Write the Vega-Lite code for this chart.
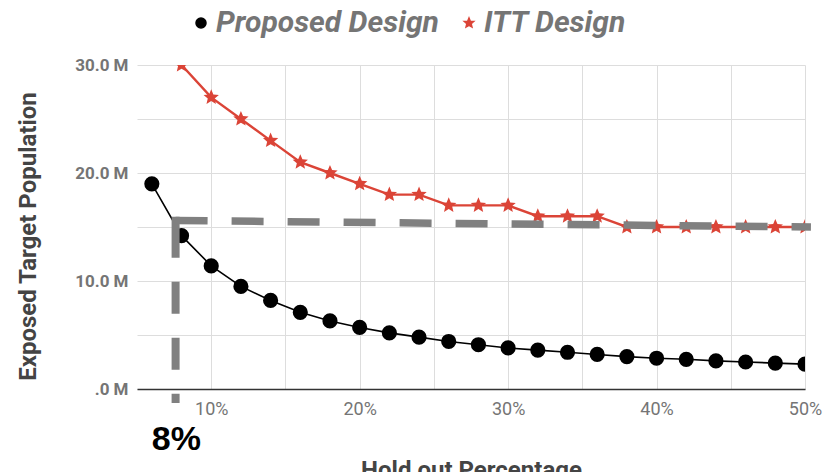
{
  "$schema": "https://vega.github.io/schema/vega-lite/v6.json",
  "width": 668,
  "height": 324,
  "autosize": {"type": "none"},
  "padding": {"left": 137, "top": 65, "right": 18, "bottom": 83},
  "background": "white",
  "config": {
    "font": "Roboto",
    "view": {"stroke": null},
    "axis": {"gridColor": "#dddddd", "gridWidth": 1, "ticks": false}
  },
  "datasets": {
    "series": [
      {"pct": 6, "value": 19.0, "series": "Proposed Design"},
      {"pct": 8, "value": 14.2, "series": "Proposed Design"},
      {"pct": 10, "value": 11.4, "series": "Proposed Design"},
      {"pct": 12, "value": 9.5, "series": "Proposed Design"},
      {"pct": 14, "value": 8.2, "series": "Proposed Design"},
      {"pct": 16, "value": 7.1, "series": "Proposed Design"},
      {"pct": 18, "value": 6.3, "series": "Proposed Design"},
      {"pct": 20, "value": 5.7, "series": "Proposed Design"},
      {"pct": 22, "value": 5.2, "series": "Proposed Design"},
      {"pct": 24, "value": 4.8, "series": "Proposed Design"},
      {"pct": 26, "value": 4.4, "series": "Proposed Design"},
      {"pct": 28, "value": 4.1, "series": "Proposed Design"},
      {"pct": 30, "value": 3.8, "series": "Proposed Design"},
      {"pct": 32, "value": 3.6, "series": "Proposed Design"},
      {"pct": 34, "value": 3.4, "series": "Proposed Design"},
      {"pct": 36, "value": 3.2, "series": "Proposed Design"},
      {"pct": 38, "value": 3.0, "series": "Proposed Design"},
      {"pct": 40, "value": 2.85, "series": "Proposed Design"},
      {"pct": 42, "value": 2.75, "series": "Proposed Design"},
      {"pct": 44, "value": 2.6, "series": "Proposed Design"},
      {"pct": 46, "value": 2.5, "series": "Proposed Design"},
      {"pct": 48, "value": 2.4, "series": "Proposed Design"},
      {"pct": 50, "value": 2.3, "series": "Proposed Design"},
      {"pct": 8, "value": 30, "series": "ITT Design"},
      {"pct": 10, "value": 27, "series": "ITT Design"},
      {"pct": 12, "value": 25, "series": "ITT Design"},
      {"pct": 14, "value": 23, "series": "ITT Design"},
      {"pct": 16, "value": 21, "series": "ITT Design"},
      {"pct": 18, "value": 20, "series": "ITT Design"},
      {"pct": 20, "value": 19, "series": "ITT Design"},
      {"pct": 22, "value": 18, "series": "ITT Design"},
      {"pct": 24, "value": 18, "series": "ITT Design"},
      {"pct": 26, "value": 17, "series": "ITT Design"},
      {"pct": 28, "value": 17, "series": "ITT Design"},
      {"pct": 30, "value": 17, "series": "ITT Design"},
      {"pct": 32, "value": 16, "series": "ITT Design"},
      {"pct": 34, "value": 16, "series": "ITT Design"},
      {"pct": 36, "value": 16, "series": "ITT Design"},
      {"pct": 38, "value": 15, "series": "ITT Design"},
      {"pct": 40, "value": 15, "series": "ITT Design"},
      {"pct": 42, "value": 15, "series": "ITT Design"},
      {"pct": 44, "value": 15, "series": "ITT Design"},
      {"pct": 46, "value": 15, "series": "ITT Design"},
      {"pct": 48, "value": 15, "series": "ITT Design"},
      {"pct": 50, "value": 15, "series": "ITT Design"}
    ],
    "hline": [{"pct": 7.6, "value": 15.6, "pct2": 50.4, "value2": 15.0}],
    "vline": [{"pct": 7.6, "value": 15.95, "pct2": 7.6, "value2": -1.3}],
    "note": [{"pct": 7.65, "value": -4.72, "label": "8%"}]
  },
  "encoding": {
    "x": {
      "field": "pct", "type": "quantitative",
      "scale": {"domain": [5, 50], "nice": false, "zero": false},
      "axis": {
        "values": [10, 15, 20, 25, 30, 35, 40, 45, 50],
        "labelExpr": "datum.value % 10 == 0 ? datum.value + '%' : ''",
        "grid": true,
        "domainColor": "#333333",
        "domainWidth": 1.5,
        "labelColor": "#757575",
        "labelFontSize": 18,
        "labelPadding": 11,
        "labelFlush": false,
        "title": "Hold out Percentage",
        "titleFontSize": 24,
        "titleFontWeight": "bold",
        "titleColor": "#444444",
        "titleX": 334,
        "titleY": 69,
        "titleAlign": "center",
        "titleBaseline": "top"
      }
    },
    "y": {
      "field": "value", "type": "quantitative",
      "scale": {"domain": [0, 30], "nice": false},
      "axis": {
        "values": [0, 5, 10, 15, 20, 25, 30],
        "labelExpr": "datum.value % 10 != 0 ? '' : (datum.value == 0 ? '.0 M' : format(datum.value, '.1f') + ' M')",
        "grid": true,
        "domain": false,
        "labelPadding": 9,
        "labelColor": "#757575",
        "labelFontSize": 17,
        "labelFontWeight": "bold",
        "title": "Exposed Target Population",
        "titleFontSize": 24,
        "titleFontWeight": "bold",
        "titleColor": "#444444",
        "titleAngle": -90,
        "titleX": -109,
        "titleY": 171,
        "titleAlign": "center",
        "titleBaseline": "middle"
      }
    }
  },
  "layer": [
    {
      "data": {"name": "series"},
      "transform": [{"filter": "datum.series == 'Proposed Design'"}],
      "mark": {"type": "point", "filled": true, "clip": true, "size": 230, "opacity": 1},
      "encoding": {
        "color": {
          "field": "series", "type": "nominal",
          "scale": {"domain": ["Proposed Design", "ITT Design"], "range": ["#000000", "#db4437"]},
          "legend": {
            "orient": "none",
            "legendX": 49,
            "legendY": -57,
            "direction": "horizontal",
            "title": null,
            "padding": 0,
            "labelFont": "Roboto",
            "labelFontSize": 30,
            "labelFontWeight": "bold",
            "labelFontStyle": "italic",
            "labelColor": "#757575",
            "labelLimit": 500,
            "labelOffset": 0,
            "columnPadding": 15,
            "symbolSize": 100
          }
        },
        "shape": {
          "field": "series", "type": "nominal",
          "scale": {"domain": ["Proposed Design", "ITT Design"], "range": ["circle", "M0,-1L0.265,-0.364L0.951,-0.309L0.428,0.139L0.588,0.809L0,0.45L-0.588,0.809L-0.428,0.139L-0.951,-0.309L-0.265,-0.364Z"]}
        }
      }
    },
    {
      "data": {"name": "series"},
      "transform": [{"filter": "datum.series == 'ITT Design'"}],
      "mark": {"type": "point", "filled": true, "clip": true, "size": 260, "opacity": 1},
      "encoding": {
        "color": {"field": "series", "type": "nominal"},
        "shape": {"field": "series", "type": "nominal"}
      }
    },
    {
      "data": {"name": "series"},
      "transform": [{"filter": "datum.series == 'ITT Design'"}],
      "mark": {"type": "line", "clip": true, "strokeWidth": 2.4},
      "encoding": {
        "color": {"field": "series", "type": "nominal"}
      }
    },
    {
      "data": {"name": "series"},
      "transform": [{"filter": "datum.series == 'Proposed Design'"}],
      "mark": {"type": "line", "clip": true, "strokeWidth": 1.6},
      "encoding": {
        "color": {"field": "series", "type": "nominal"}
      }
    },
    {
      "data": {"name": "hline"},
      "mark": {"type": "rule", "color": "#808080", "strokeWidth": 7.5, "strokeDash": [32, 24]},
      "encoding": {
        "x2": {"field": "pct2"},
        "y2": {"field": "value2"}
      }
    },
    {
      "data": {"name": "vline"},
      "mark": {"type": "rule", "color": "#808080", "strokeWidth": 8, "strokeDash": [41, 24, 32, 24, 32, 24, 32, 24]},
      "encoding": {
        "x2": {"field": "pct2"},
        "y2": {"field": "value2"}
      }
    },
    {
      "data": {"name": "note"},
      "mark": {"type": "text", "font": "Liberation Sans", "fontSize": 34, "fontWeight": "bold", "color": "#000000", "baseline": "middle", "align": "center"},
      "encoding": {
        "text": {"field": "label"}
      }
    }
  ]
}
